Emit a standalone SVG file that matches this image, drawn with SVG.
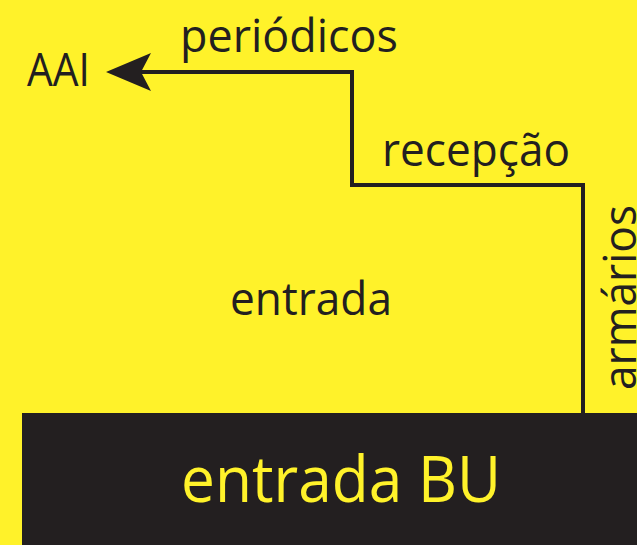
<svg xmlns="http://www.w3.org/2000/svg" width="637" height="545" viewBox="0 0 637 545">
<defs>
<style>
.lbl{font-family:"Open Sans","Noto Sans","Liberation Sans",sans-serif;font-size:45px;fill:#231F20;}
.big{font-family:"Open Sans","Noto Sans","Liberation Sans",sans-serif;font-size:64px;fill:#FFF22A;}
.conn{fill:none;stroke:#231F20;stroke-width:4;stroke-linejoin:miter;}
</style>
</defs>
<rect x="0" y="0" width="637" height="545" fill="#FFF22A"/>
<g id="node-entrada-bu">
<rect x="22" y="413" width="615" height="132" fill="#231F20"/>
<text class="big" x="181" y="502" textLength="320" lengthAdjust="spacingAndGlyphs">entrada BU</text>
</g>
<g id="node-aai">
<text class="lbl" x="27" y="86" textLength="63" lengthAdjust="spacingAndGlyphs">AAI</text>
</g>
<g id="node-entrada">
<text class="lbl" x="230" y="315" textLength="162" lengthAdjust="spacingAndGlyphs">entrada</text>
</g>
<g id="connectors">
<path class="conn" d="M583,413 V185 H352 V72 H140"/>
<path d="M106,72 L151,53 L141,72 L151,91 Z" fill="#231F20"/>
<text class="lbl" x="180" y="52" textLength="218" lengthAdjust="spacingAndGlyphs">periódicos</text>
<text class="lbl" x="382" y="166" textLength="188" lengthAdjust="spacingAndGlyphs">recepção</text>
<text class="lbl" transform="translate(636,390) rotate(-90)" x="0" y="0" textLength="185" lengthAdjust="spacingAndGlyphs">armários</text>
</g>
</svg>
